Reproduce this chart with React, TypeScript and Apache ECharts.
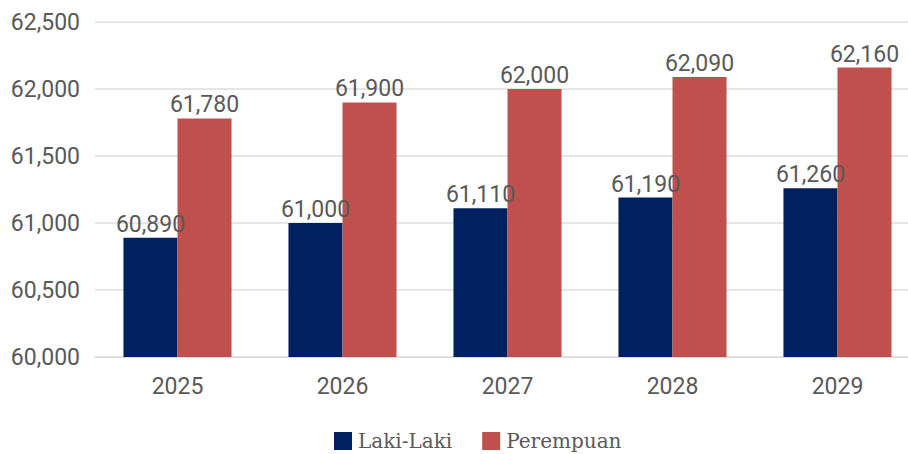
import React, { useEffect, useRef } from "react";
import * as echarts from "echarts";

const years = ["2025", "2026", "2027", "2028", "2029"];
const lakiLaki = [60890, 61000, 61110, 61190, 61260];
const perempuan = [61780, 61900, 62000, 62090, 62160];
const seriesNames = ["Laki-Laki", "Perempuan"];

const fmt = (v: number) => v.toLocaleString("en-US");
const sansFont = "'Roboto', sans-serif";
const serifFont = "'DejaVu Serif', serif";

export default function App() {
  const ref = useRef<HTMLDivElement>(null);
  useEffect(() => {
    const chart = echarts.init(ref.current!, undefined, { renderer: "svg" });
    const label = {
      show: true,
      position: "top",
      distance: 2,
      color: "#595959",
      fontFamily: sansFont,
      fontSize: 23,
      formatter: (p: any) => fmt(p.value),
    };
    chart.setOption({
      animation: false,
      backgroundColor: "#ffffff",
      grid: { left: 95, top: 22, width: 825, bottom: 97, containLabel: false },
      legend: {
        top: 431,
        left: 334,
        padding: 0,
        itemWidth: 18,
        itemHeight: 18,
        itemGap: 30,
        icon: "rect",
        textStyle: { fontFamily: serifFont, fontSize: 20, lineHeight: 20, color: "#595959", padding: [0, 0, 0, 1] },
        data: seriesNames,
      },
      xAxis: {
        type: "category",
        data: years,
        axisLine: { lineStyle: { color: "#d9d9d9", width: 1 } },
        axisTick: { show: false },
        axisLabel: { color: "#595959", fontFamily: sansFont, fontSize: 23, margin: 18 },
      },
      yAxis: {
        type: "value",
        min: 60000,
        max: 62500,
        interval: 500,
        axisLine: { show: false },
        axisTick: { show: false },
        splitLine: { lineStyle: { color: "#e6e6e6", width: 2 } },
        axisLabel: {
          color: "#595959",
          fontFamily: sansFont,
          fontSize: 23,
          margin: 15,
          formatter: (v: number) => fmt(v),
        },
      },
      series: [
        {
          name: seriesNames[0],
          type: "bar",
          data: lakiLaki,
          itemStyle: { color: "#002060" },
          barGap: "0%",
          barCategoryGap: "34.5%",
          label,
        },
        {
          name: seriesNames[1],
          type: "bar",
          data: perempuan,
          itemStyle: { color: "#C0504D" },
          barGap: "0%",
          barCategoryGap: "34.5%",
          label,
        },
      ],
    });
    return () => chart.dispose();
  }, []);
  return (
    <div style={{ position: "fixed", left: 0, top: 0, width: 908, height: 454, overflow: "hidden" }}>
      <div ref={ref} style={{ width: 925, height: 454 }} />
    </div>
  );
}
